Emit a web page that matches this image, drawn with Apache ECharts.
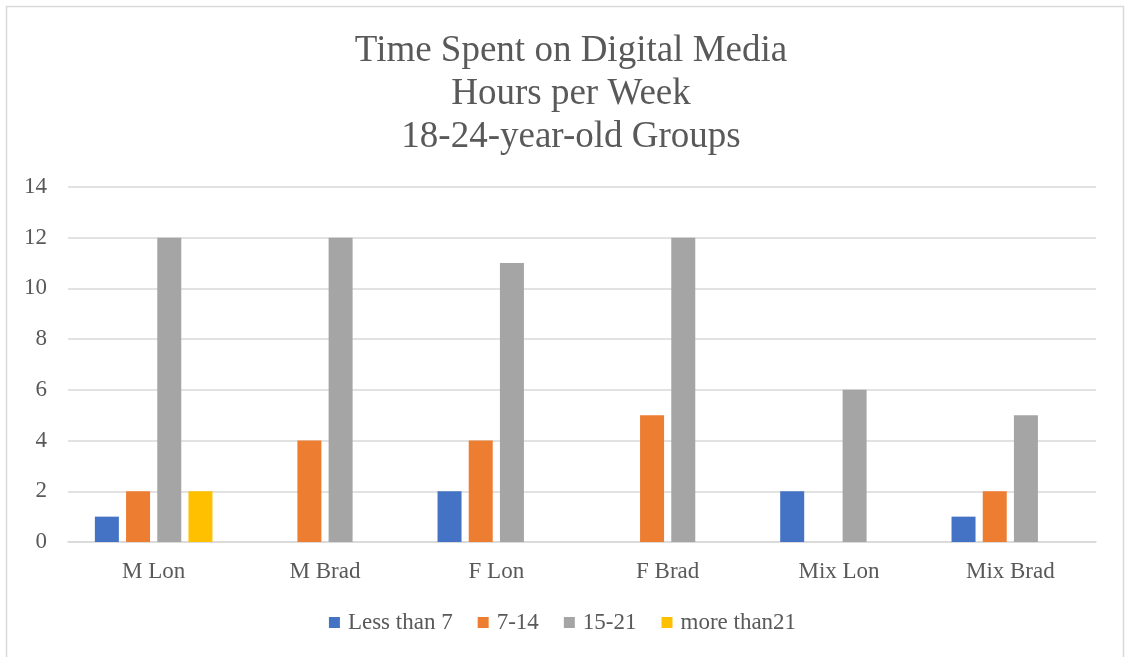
<!DOCTYPE html>
<html>
<head>
<meta charset="utf-8">
<script src="https://cdn.jsdelivr.net/npm/echarts@6/dist/echarts.min.js"></script>
<style>
  html, body { margin: 0; padding: 0; background: #fff; }
  #chart { width: 1125px; height: 657px; }
</style>
</head>
<body>
<div id="chart"></div>
<script>
// Weekly hours on digital media, 18-24-year-old groups
const categories = ['M Lon', 'M Brad', 'F Lon', 'F Brad', 'Mix Lon', 'Mix Brad'];
const seriesNames = ['Less than 7', '7-14', '15-21', 'more than21'];
const lessThan7 = [1, 0, 2, 0, 2, 1];
const from7to14 = [2, 4, 4, 5, 0, 2];
const from15to21 = [12, 12, 11, 12, 6, 5];
const moreThan21 = [2, 0, 0, 0, 0, 0];
const yTicks = [0, 2, 4, 6, 8, 10, 12, 14];

const colors = ['#4472C4', '#ED7D31', '#A5A5A5', '#FFC000'];
const seriesValues = [lessThan7, from7to14, from15to21, moreThan21];
const font = '"Liberation Serif", "Times New Roman", serif';
const textColor = '#595959';

const chart = echarts.init(document.getElementById('chart'), null, { renderer: 'canvas' });

chart.setOption({
  backgroundColor: '#ffffff',
  animation: false,
  color: colors,
  graphic: [{
    type: 'rect',
    shape: { x: 6.5, y: 6.5, width: 1117, height: 670 },
    style: { fill: 'none', stroke: '#D9D9D9', lineWidth: 1.5 },
    silent: true
  }],
  title: {
    text: 'Time Spent on Digital Media\nHours per Week\n18-24-year-old Groups',
    left: 566,
    top: 25,
    textAlign: 'center',
    textStyle: {
      fontFamily: font,
      fontSize: 37,
      fontWeight: 'normal',
      color: textColor,
      lineHeight: 43
    }
  },
  legend: {
    data: seriesNames,
    left: 'center',
    top: 606,
    icon: 'rect',
    itemWidth: 11,
    itemHeight: 11,
    itemGap: 25,
    textStyle: { fontFamily: font, fontSize: 23, color: textColor, padding: [0, 0, 0, 3] }
  },
  grid: { left: 68, right: 29, top: 187, bottom: 115, containLabel: false },
  xAxis: {
    type: 'category',
    data: categories,
    axisTick: { show: false },
    axisLine: { lineStyle: { color: '#D9D9D9', width: 1.5 } },
    axisLabel: { fontFamily: font, fontSize: 23, color: textColor, margin: 18 }
  },
  yAxis: {
    type: 'value',
    min: yTicks[0],
    max: yTicks[yTicks.length - 1],
    interval: 2,
    axisLine: { show: false },
    axisTick: { show: false },
    splitLine: { lineStyle: { color: '#D9D9D9', width: 1.5 } },
    axisLabel: { fontFamily: font, fontSize: 23, color: textColor, margin: 21 }
  },
  series: seriesNames.map((name, i) => ({
    name: name,
    type: 'bar',
    data: seriesValues[i],
    barWidth: 24,
    barGap: '30%',
    itemStyle: { color: colors[i] }
  }))
});
</script>
</body>
</html>
